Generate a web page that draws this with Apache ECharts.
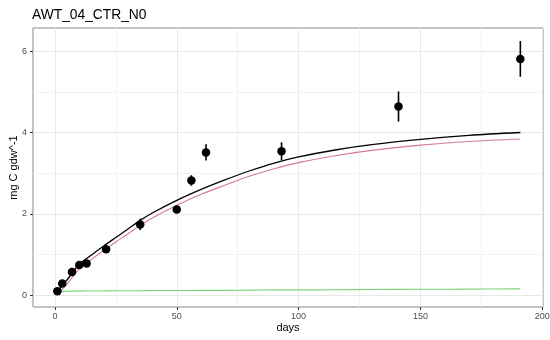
<!DOCTYPE html>
<html>
<head>
<meta charset="utf-8">
<script src="https://cdn.jsdelivr.net/npm/echarts@6/dist/echarts.min.js"></script>
<style>html,body{margin:0;padding:0;background:#fff}#c{width:550px;height:340px}</style>
</head>
<body>
<div id="c"></div>
<script>
// Observed data
const obsDays = [1, 3, 7, 10, 13, 21, 35, 50, 56, 62, 93, 141, 191];
const obsMean = [0.10, 0.29, 0.57, 0.74, 0.78, 1.13, 1.74, 2.11, 2.82, 3.51, 3.54, 4.64, 5.81];
const obsErr  = [0.03, 0.03, 0.03, 0.04, 0.04, 0.04, 0.14, 0.06, 0.13, 0.20, 0.22, 0.37, 0.44];

// Model curves
const curveDays = [1, 5, 10, 15, 20, 25, 30, 35, 40, 50, 60, 70, 80, 90, 100, 115, 130, 150, 170, 191];
const totalFit  = [0.10, 0.38, 0.76, 0.99, 1.21, 1.42, 1.63, 1.84, 2.02, 2.33, 2.60, 2.84, 3.06, 3.25, 3.40, 3.57, 3.70, 3.83, 3.93, 4.00];
const pool1Fit  = [0.01, 0.28, 0.65, 0.88, 1.10, 1.31, 1.51, 1.72, 1.90, 2.21, 2.48, 2.71, 2.93, 3.11, 3.26, 3.43, 3.56, 3.69, 3.78, 3.84];
const pool2Fit  = [0.08, 0.10, 0.10, 0.105, 0.105, 0.11, 0.11, 0.11, 0.115, 0.115, 0.12, 0.12, 0.125, 0.13, 0.13, 0.135, 0.14, 0.145, 0.15, 0.155];

// Axis ticks
const xTicks = [0, 50, 100, 150, 200];
const xMinor = [25, 75, 125, 175];
const yTicks = [0, 2, 4, 6];
const yMinor = [1, 3, 5];

const zip = (a, b) => a.map((v, i) => [v, b[i]]);
const font = 'Liberation Sans, Arial, sans-serif';

const minorStyle = {color: '#f2f2f2', width: 1, type: 'solid'};
const majorStyle = {color: '#e8e8e8', width: 1, type: 'solid'};
const gridLines = [
  ...xMinor.map(v => ({xAxis: v, lineStyle: minorStyle})),
  ...yMinor.map(v => ({yAxis: v, lineStyle: minorStyle})),
  ...xTicks.map(v => ({xAxis: v, lineStyle: majorStyle})),
  ...yTicks.map(v => ({yAxis: v, lineStyle: majorStyle}))
];

const chart = echarts.init(document.getElementById('c'), null, {renderer: 'canvas'});
chart.setOption({
  animation: false,
  backgroundColor: '#fff',
  title: {
    text: 'AWT_04_CTR_N0', left: 27, top: 3,
    textStyle: {fontFamily: font, fontSize: 13.8, fontWeight: 'normal', color: '#000'}
  },
  grid: {left: 33, right: 7, top: 28, bottom: 33, containLabel: false, outerBoundsMode: 'none',
         show: true, borderColor: '#8a8a8a', borderWidth: 1, backgroundColor: 'transparent'},
  xAxis: {
    type: 'value', min: -9, max: 200.3,
    name: 'days', nameLocation: 'middle', nameGap: 15, nameMoveOverlap: false,
    nameTextStyle: {fontFamily: font, fontSize: 11, color: '#000'},
    axisLine: {show: false, onZero: false},
    axisTick: {show: true, inside: false, length: 3, lineStyle: {color: '#333'}, customValues: xTicks},
    axisLabel: {fontFamily: font, fontSize: 9, color: '#4d4d4d', margin: 5, customValues: xTicks},
    splitLine: {show: false}
  },
  yAxis: {
    type: 'value', min: -0.29, max: 6.57,
    name: 'mg C gdw^-1', nameLocation: 'middle', nameGap: 14, nameMoveOverlap: false,
    nameTextStyle: {fontFamily: font, fontSize: 11, color: '#000'},
    axisLine: {show: false, onZero: false},
    axisTick: {show: true, inside: false, length: 3, lineStyle: {color: '#333'}, customValues: yTicks},
    axisLabel: {fontFamily: font, fontSize: 9, color: '#4d4d4d', margin: 6, customValues: yTicks},
    splitLine: {show: false}
  },
  series: [
    {
      type: 'line', data: [], silent: true, z: 0,
      markLine: {silent: true, symbol: 'none', label: {show: false}, animation: false, z: 0, data: gridLines}
    },
    {
      type: 'line', data: zip(curveDays, pool2Fit), showSymbol: false, smooth: 0.3,
      lineStyle: {color: '#7bd17b', width: 1.1}, z: 3
    },
    {
      type: 'line', data: zip(curveDays, pool1Fit), showSymbol: false, smooth: 0.3,
      lineStyle: {color: '#d4799a', width: 1.1}, z: 3
    },
    {
      type: 'line', data: zip(curveDays, totalFit), showSymbol: false, smooth: 0.3,
      lineStyle: {color: '#000', width: 1.3}, z: 4
    },
    {
      type: 'custom', z: 5,
      data: obsDays.map((d, i) => [d, obsMean[i] - obsErr[i], obsMean[i] + obsErr[i]]),
      renderItem: (params, api) => {
        const lo = api.coord([api.value(0), api.value(1)]);
        const hi = api.coord([api.value(0), api.value(2)]);
        return {type: 'line', shape: {x1: lo[0], y1: lo[1], x2: hi[0], y2: hi[1]}, style: {stroke: '#000', lineWidth: 1.6}};
      }
    },
    {
      type: 'scatter', data: zip(obsDays, obsMean), symbolSize: 8.5,
      itemStyle: {color: '#000', opacity: 1}, z: 6
    }
  ]
});
</script>
</body>
</html>
